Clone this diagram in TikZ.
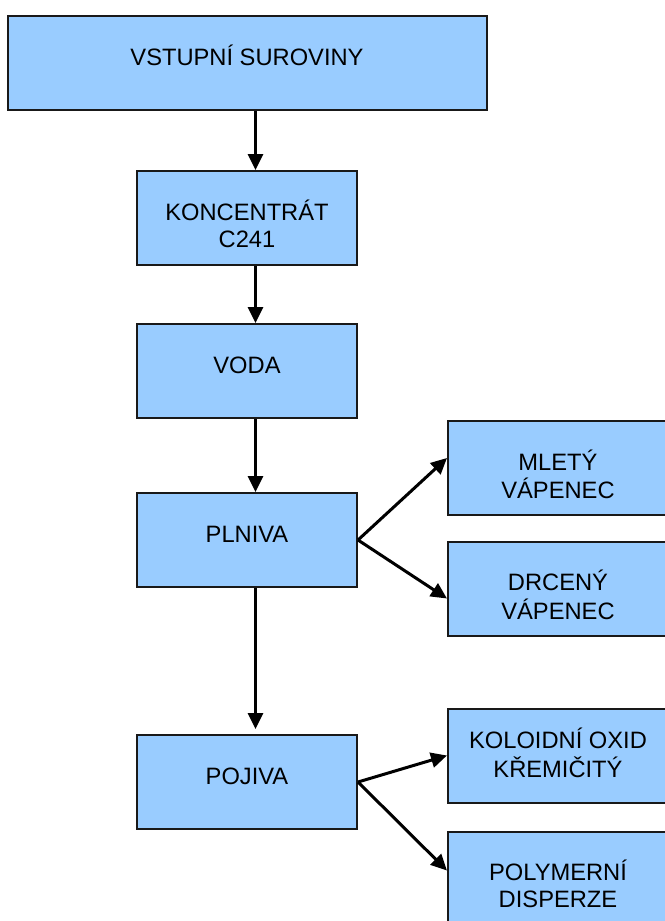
\documentclass[tikz,border=0pt]{standalone}
\usepackage{fontspec}
\setmainfont{Liberation Sans}
\usetikzlibrary{arrows.meta,positioning}
\definecolor{boxblue}{HTML}{99CCFF}
\newcommand{\boxtext}[1]{\begin{tabular}[t]{@{}c@{}}#1\end{tabular}}

\begin{document}
\begin{tikzpicture}[x=1pt, y=-1pt,
  every node/.style={draw=black!90, fill=boxblue, line width=2pt, minimum width=220pt, minimum height=94pt,
    text height=17pt, text depth=13pt, font=\fontsize{23.7pt}{27pt}\selectfont},
  flow/.style={line width=3pt, -{Triangle[width=15pt,length=16pt]}}]
  \useasboundingbox (0,0) rectangle (664,921);
  % main column
  \node[minimum width=479pt] (vstup) at (247,63) {\boxtext{VSTUPNÍ SUROVINY}};
  \node[below = 59pt of vstup] (konc) {\boxtext{KONCENTRÁT\\C241}};
  \node[below = 57pt of konc] (voda) {\boxtext{VODA}};
  \node[below = 73pt of voda] (plniva) {\boxtext{PLNIVA}};
  \node[below = 146pt of plniva] (pojiva) {\boxtext{POJIVA}};
  % side boxes
  \node[right = 89pt of plniva, yshift=72pt] (mlety) {\boxtext{MLETÝ\\VÁPENEC}};
  \node[right = 89pt of plniva, yshift=-48.5pt] (drceny) {\boxtext{DRCENÝ\\VÁPENEC}};
  \node[right = 89pt of pojiva, yshift=26.5pt, text depth=31pt] (koloid) {\boxtext{KOLOIDNÍ OXID\\KŘEMIČITÝ}};
  \node[right = 89pt of pojiva, yshift=-96.5pt] (polymer) {\boxtext{POLYMERNÍ\\DISPERZE}};
  % arrows
  \draw[flow] ([xshift=8.5pt]vstup.south) -- ([xshift=8.5pt]konc.north);
  \draw[flow] ([xshift=8.5pt]konc.south) -- ([xshift=8.5pt]voda.north);
  \draw[flow] ([xshift=8.5pt]voda.south) -- ([xshift=8.5pt]plniva.north);
  \draw[flow, shorten >=5pt] ([xshift=8.5pt]plniva.south) -- ([xshift=8.5pt]pojiva.north);
  \draw[flow] (plniva.east) -- ([yshift=10pt]mlety.west);
  \draw[flow] (plniva.east) -- ([yshift=-10pt]drceny.west);
  \draw[flow] (pojiva.east) -- (koloid.west);
  \draw[flow] (pojiva.east) -- ([yshift=8pt]polymer.west);
\end{tikzpicture}
\end{document}
